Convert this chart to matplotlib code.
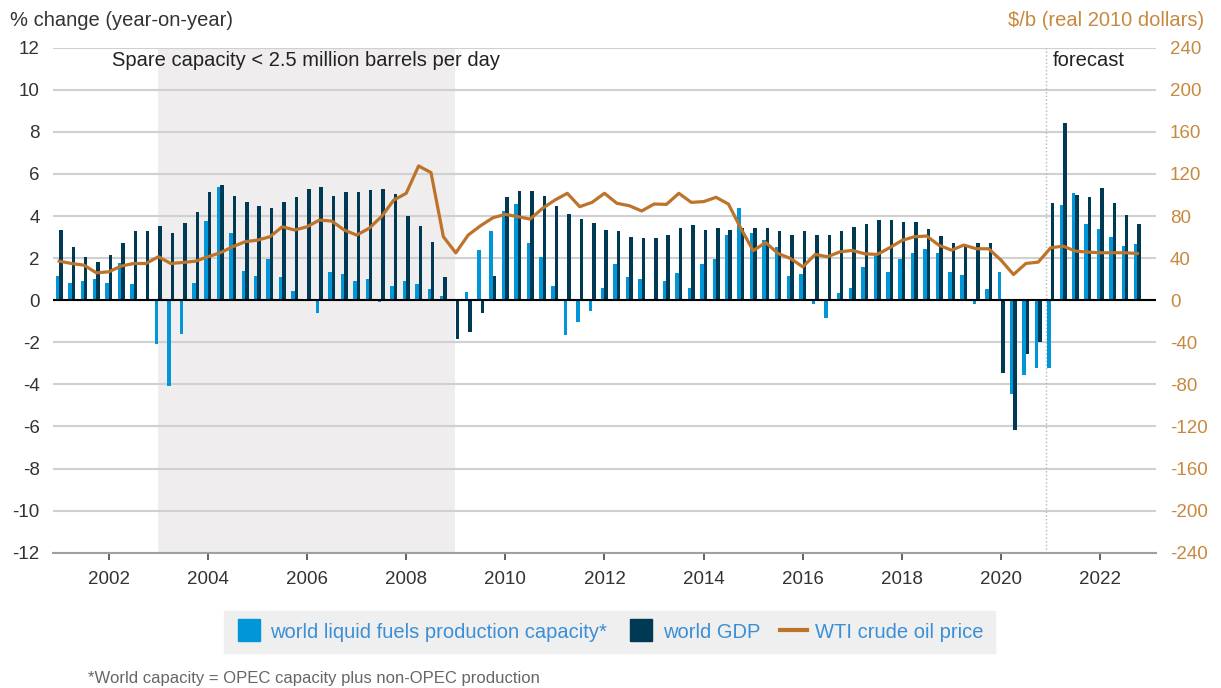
import numpy as np
import pandas as pd
import matplotlib
matplotlib.use("Agg")
import matplotlib.pyplot as plt
from matplotlib.lines import Line2D

# quarterly, 2001Q1 .. 2022Q4
quarters = pd.period_range("2001Q1", "2022Q4", freq="Q")

capacity = [1.16, 0.83, 0.90, 1.00, 0.83, 1.79, 0.75, 0.05, -2.06, -4.10, -1.59, 0.83,
            3.76, 5.37, 3.17, 1.40, 1.16, 1.98, 1.08, 0.43, 0.05, -0.60, 1.32, 1.24,
            0.90, 1.00, -0.10, 0.67, 0.90, 0.75, 0.51, 0.19, 0.00, 0.40, 2.38, 3.29,
            4.24, 4.57, 2.70, 2.03, 0.67, -1.67, -1.03, -0.52, 0.59, 1.71, 1.08, 1.00,
            0.02, 0.90, 1.30, 0.59, 1.71, 1.98, 3.10, 4.40, 3.17, 2.86, 2.54, 1.16,
            1.24, -0.20, -0.84, 0.35, 0.57, 1.59, 2.10, 1.35, 1.94, 2.25, 2.41, 2.25,
            1.35, 1.19, -0.16, 0.54, 1.35, -4.44, -3.54, -3.22, -3.22, 4.52, 5.08, 3.63,
            3.38, 2.98, 2.57, 2.65]

gdp = [3.33, 2.54, 2.05, 1.81, 2.13, 2.70, 3.29, 3.29, 3.52, 3.20, 3.68, 4.17,
       5.14, 5.48, 4.97, 4.65, 4.49, 4.40, 4.65, 4.89, 5.29, 5.38, 4.97, 5.14,
       5.14, 5.22, 5.29, 5.05, 4.02, 3.52, 2.78, 1.08, -1.83, -1.51, -0.60, 1.16,
       4.89, 5.21, 5.21, 4.97, 4.48, 4.08, 3.84, 3.68, 3.33, 3.27, 3.02, 2.94,
       2.94, 3.10, 3.41, 3.59, 3.33, 3.43, 3.33, 3.41, 3.43, 3.43, 3.27, 3.10,
       3.27, 3.10, 3.10, 3.30, 3.48, 3.63, 3.79, 3.79, 3.71, 3.71, 3.38, 3.05,
       2.73, 2.57, 2.73, 2.73, -3.44, -6.19, -2.54, -1.98, 4.60, 8.41, 5.00, 4.92,
       5.32, 4.60, 4.03, 3.63]

wti = [37.1, 34.9, 33.3, 26.0, 27.0, 32.4, 34.9, 34.9, 41.3, 34.9, 35.9, 37.1,
       41.3, 45.1, 50.8, 55.6, 57.1, 60.3, 69.8, 66.7, 69.8, 76.2, 75.2, 66.7,
       61.9, 68.3, 79.4, 95.2, 101.6, 127.6, 121.3, 60.3, 45.0, 61.9, 70.8, 78.4,
       81.6, 79.4, 77.1, 87.3, 95.2, 101.6, 88.9, 93.0, 101.6, 92.1, 89.8, 84.8,
       91.4, 91.1, 101.6, 93.0, 93.7, 97.8, 91.4, 68.3, 47.0, 54.9, 44.4, 39.7,
       31.7, 43.5, 41.3, 46.0, 47.3, 44.1, 43.5, 49.8, 56.8, 60.3, 61.0, 52.1,
       47.6, 52.4, 48.9, 48.9, 38.0, 24.4, 34.9, 36.2, 49.8, 51.4, 46.7, 45.7,
       45.1, 45.1, 45.1, 44.4]

year_ticks = [2002, 2004, 2006, 2008, 2010, 2012, 2014, 2016, 2018, 2020, 2022]
left_ticks = list(range(-12, 13, 2))
right_ticks = list(range(-240, 241, 40))

LIGHT = "#0096d7"
DARK = "#003953"
ORANGE = "#bd732a"
ORANGE_TXT = "#c8883e"
TXT = "#333333"

plt.rcParams["font.family"] = ["Liberation Sans", "DejaVu Sans"]
plt.rcParams["axes.unicode_minus"] = False

x = np.array([q.year + (q.quarter - 1) / 4 for q in quarters])

W, H = 1221, 688
fig = plt.figure(figsize=(W / 100, H / 100), dpi=100)
ax = fig.add_axes([53 / W, 1 - 552.7 / H, (1156 - 53) / W, 505 / H])

ax.axvspan(2002.99, 2008.98, color="#efedee", zorder=0.1, lw=0)
ax.bar(x - 0.035, capacity, width=0.07, color=LIGHT, zorder=2)
ax.bar(x + 0.035, gdp, width=0.07, color=DARK, zorder=2)
ax.axhline(0, color="black", lw=1.5, zorder=3)
ax.axvline(2020.9, color="#b5b5b5", lw=1, ls=":", zorder=1)

ax.set_xlim(2000.875, 2023.125)
ax.set_ylim(-12, 12)
ax.set_yticks(left_ticks)
ax.set_xticks(year_ticks)
ax.set_axisbelow(True)
ax.yaxis.grid(True, color="#d0d0d0", lw=1.5)
for s in ["top", "left", "right"]:
    ax.spines[s].set_visible(False)
ax.spines["bottom"].set_color("#a0a0a0")
ax.spines["bottom"].set_linewidth(1.5)
ax.tick_params(axis="y", length=0, pad=9.5, labelsize=13.5, labelcolor=TXT)
ax.tick_params(axis="x", length=5, width=1.3, color="#555555", pad=8,
               labelsize=13.5, labelcolor=TXT)

ax2 = ax.twinx()
ax2.plot(x, wti, color=ORANGE, lw=2.3, zorder=4)
ax2.set_ylim(-240, 240)
ax2.set_yticks(right_ticks)
for s in ax2.spines.values():
    s.set_visible(False)
ax2.tick_params(axis="y", length=0, pad=10, labelsize=13.5, labelcolor=ORANGE_TXT)

ax.text(2002.07, 11.4, "Spare capacity < 2.5 million barrels per day", fontsize=14.5,
        color="#222222", va="center", ha="left", zorder=5)
ax.text(2021.05, 11.4, "forecast", fontsize=14.5, color="#222222", va="center",
        ha="left", zorder=5)

fig.text(10 / W, 1 - 20 / H, "% change (year-on-year)", fontsize=14.5, color=TXT,
         va="center", ha="left")
fig.text(1204 / W, 1 - 20 / H, r"\$/b (real 2010 dollars)", fontsize=14.5,
         color=ORANGE_TXT, va="center", ha="right")

handles = [
    Line2D([], [], marker="s", ls="none", markersize=16, markerfacecolor=LIGHT,
           markeredgecolor=LIGHT),
    Line2D([], [], marker="s", ls="none", markersize=16, markerfacecolor=DARK,
           markeredgecolor=DARK),
    Line2D([], [], color=ORANGE, lw=3),
]
labels = ["world liquid fuels production capacity*", "world GDP", "WTI crude oil price"]
leg = fig.legend(handles, labels, loc="center", bbox_to_anchor=(609.5 / W, 1 - 632 / H),
                 ncol=3, fontsize=14.5, labelcolor="#3a8fd6", frameon=True,
                 fancybox=False, facecolor="#efefef", edgecolor="#efefef",
                 framealpha=1, handlelength=1.35, handletextpad=0.4,
                 columnspacing=1.0, borderpad=0.55)

fig.text(88 / W, 1 - 678 / H, "*World capacity = OPEC capacity plus non-OPEC production",
         fontsize=12, color="#666666", va="center", ha="left")

fig.savefig("out.png", dpi=100)
